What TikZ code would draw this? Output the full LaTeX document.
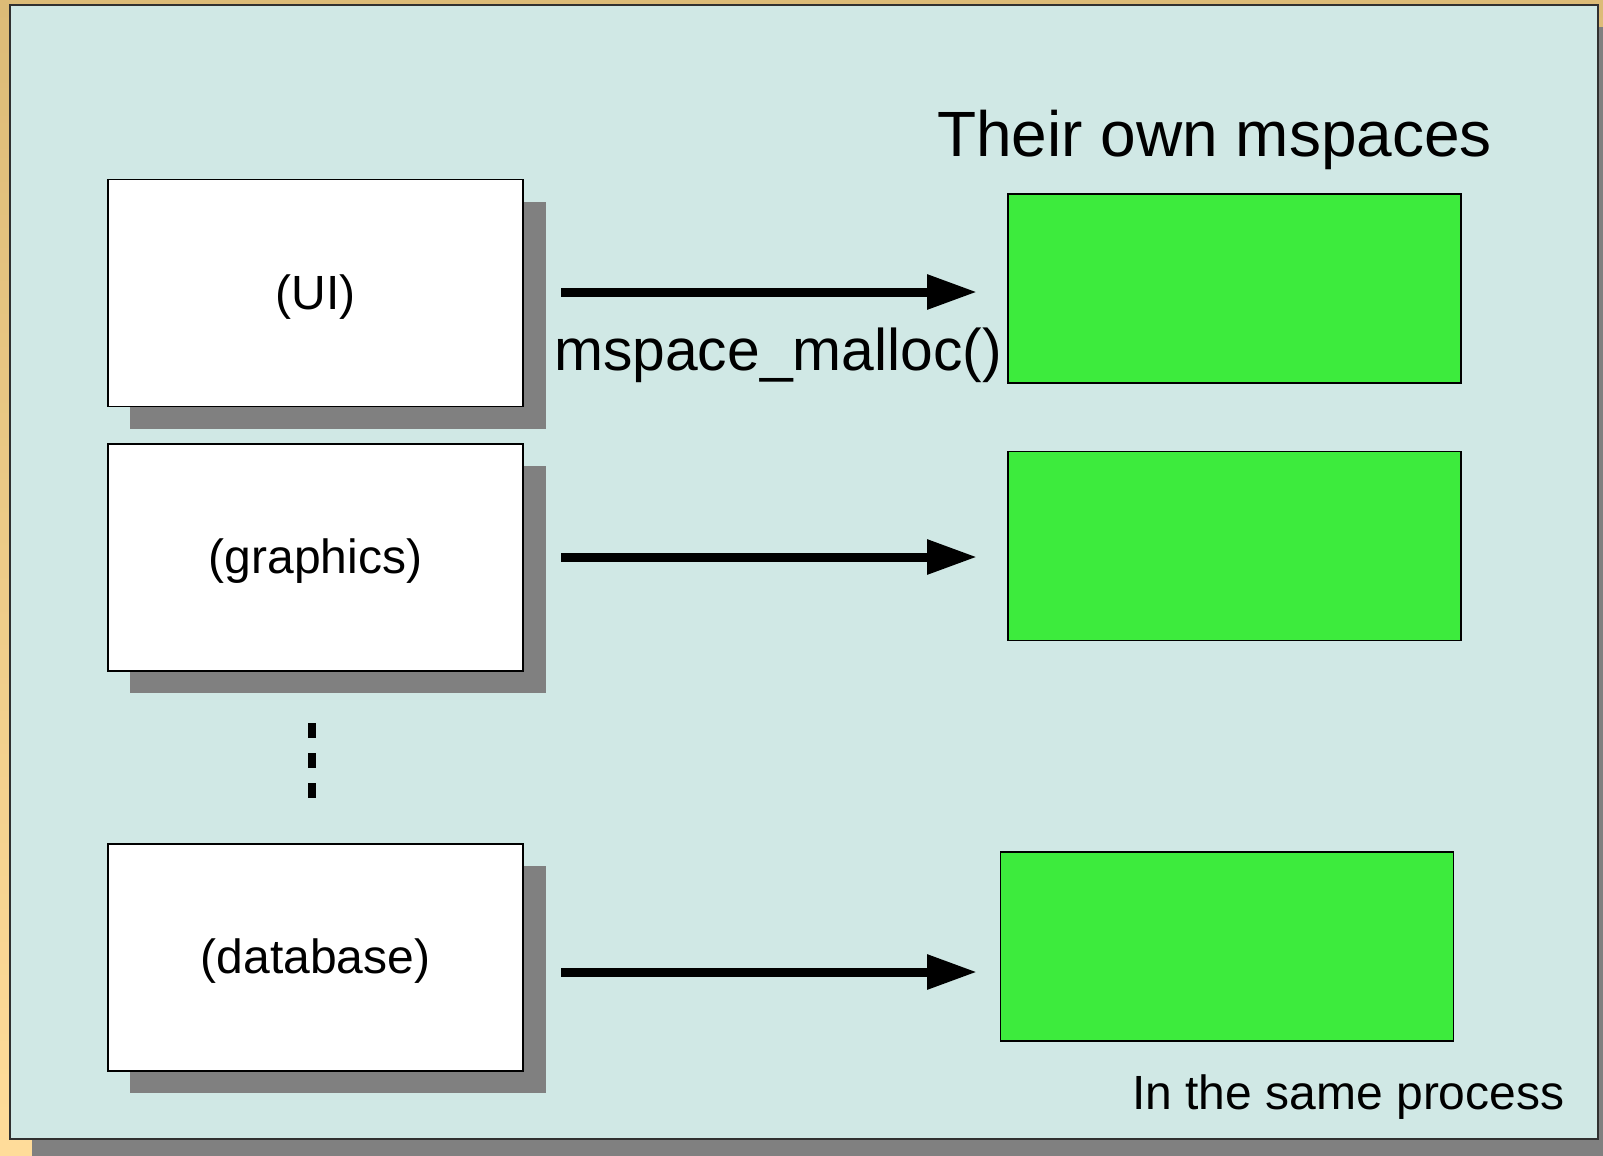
\documentclass[tikz,border=0pt]{standalone}
\usepackage{fontspec}
\setmainfont{Liberation Sans}
\usetikzlibrary{arrows.meta,calc}

\definecolor{frametop}{HTML}{DCBB77}
\definecolor{framebot}{HTML}{FFDC9A}
\definecolor{panel}{HTML}{D0E8E5}
\definecolor{shadowgray}{HTML}{808080}
\definecolor{heapgreen}{HTML}{3DEB3D}
\definecolor{edge}{HTML}{303030}

\tikzset{
  modulebox/.style={draw=black, line width=1.4pt, fill=white,
    minimum width=415pt, minimum height=227pt, inner sep=0pt},
  modulelabel/.style={inner sep=0pt, font=\fontsize{48}{58}\selectfont},
  boxshadow/.style={fill=shadowgray, draw=none},
  heapbox/.style={draw=black, line width=1.4pt, fill=heapgreen,
    minimum width=453pt, minimum height=189pt, inner sep=0pt},
  callarrow/.style={line width=9pt, -{Triangle[length=50pt,width=33pt]}},
  caption/.style={inner sep=0pt, anchor=base west}
}

\begin{document}
\begin{tikzpicture}[x=1pt,y=-1pt]
  \useasboundingbox (0,0) rectangle (1603,1156);

  % gold backdrop
  \shade[top color=frametop, bottom color=framebot] (0,0) rectangle (1603,1156);
  % panel shadow and panel
  \fill[shadowgray] (32,27) rectangle (1603,1156);
  \draw[fill=panel, draw=edge, line width=2pt] (10,5) rectangle (1598,1139);

  % drop shadows of the module boxes
  \fill[boxshadow] (130,202) rectangle (546,429);
  \fill[boxshadow] (130,466) rectangle (546,693);
  \fill[boxshadow] (130,866) rectangle (546,1093);

  % module boxes
  \node[modulebox] (ui)  at (315.5,293)   {};
  \node[modulebox] (gfx) at (315.5,557.5) {};
  \node[modulebox] (db)  at (315.5,957.5) {};
  \node[modulelabel] (uiText)  at ([yshift=-4pt]ui.center)  {(UI)};
  \node[modulelabel] (gfxText) at ([yshift=-4pt]gfx.center) {(graphics)};
  \node[modulelabel] (dbText)  at ([yshift=-4pt]db.center)  {(database)};

  % per-module mspaces
  \node[heapbox] (h1) at (1234.5,288.5) {};
  \node[heapbox] (h2) at (1234.5,546)   {};
  \node[heapbox] (h3) at (1227,946.5)   {};

  % arrows from modules to their mspaces
  \coordinate (a1s) at (561,292);  \coordinate (a1e) at (977,292);
  \coordinate (a2s) at (561,557);  \coordinate (a2e) at (977,557);
  \coordinate (a3s) at (561,972);  \coordinate (a3e) at (977,972);
  \draw[callarrow] (a1s) -- (a1e);
  \draw[callarrow] (a2s) -- (a2e);
  \draw[callarrow] (a3s) -- (a3e);

  % vertical ellipsis between graphics and database
  \coordinate (dotsTop) at (312,723);
  \coordinate (dotsBot) at (312,798);
  \draw[line width=8pt, dash pattern=on 15pt off 15pt] (dotsTop) -- (dotsBot);

  % labels
  \node[caption, font=\fontsize{64}{76}\selectfont] (title) at (937,156) {Their own mspaces};
  \node[caption, font=\fontsize{58.8}{70}\selectfont] (call) at (554,370) {mspace\_malloc()};
  \node[caption, font=\fontsize{48}{58}\selectfont] (note) at (1132,1109) {In the same process};
\end{tikzpicture}
\end{document}
